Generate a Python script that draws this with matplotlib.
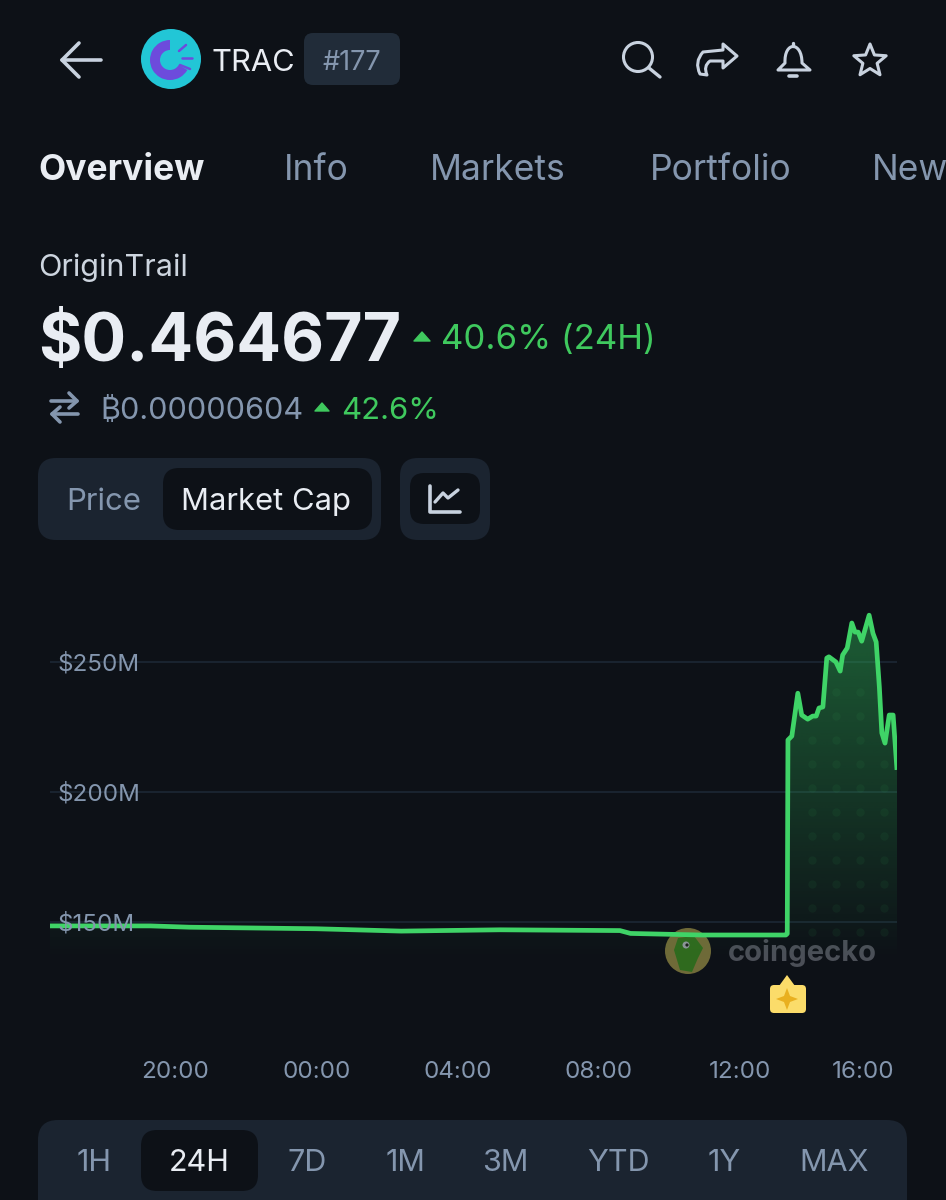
import numpy as np
import matplotlib
matplotlib.use("Agg")
import matplotlib.pyplot as plt
from matplotlib.patches import FancyBboxPatch, Circle, Wedge, Polygon, PathPatch
from matplotlib.path import Path
from matplotlib.transforms import ScaledTranslation

plt.rcParams['font.family'] = ['Inter', 'DejaVu Sans']

# hours on a running clock, 24 = 00:00 of the second day
hours = [16.45, 19.3, 20.4, 24.0, 26.4, 29.2, 32.6, 32.9, 34.9, 37.3, 37.34, 37.36, 37.47, 37.64, 37.75,
         37.92, 38.06, 38.16, 38.24, 38.35, 38.46, 38.52, 38.72, 38.84, 38.91, 39.04, 39.17, 39.26,
         39.35, 39.45, 39.66, 39.77, 39.86, 39.95, 40.02, 40.11, 40.23, 40.34, 40.45]
market_cap = [148.5, 148.5, 148.0, 147.4, 146.5, 147.0, 146.7, 145.6, 145.0, 145.0, 145.5, 220.0, 221.5, 238.0, 229.6,
              228.0, 229.2, 229.2, 232.3, 232.7, 251.5, 252.0, 250.0, 246.5, 252.7, 255.4, 265.0, 261.5,
              261.5, 258.0, 268.0, 261.0, 257.7, 240.4, 222.7, 218.8, 229.6, 229.6, 208.5]

y_ticks = [150, 200, 250]
y_tick_labels = ['$150M', '$200M', '$250M']
x_ticks = [20, 24, 28, 32, 36, 40]
x_tick_labels = ['20:00', '00:00', '04:00', '08:00', '12:00', '16:00']

tabs = ['Overview', 'Info', 'Markets', 'Portfolio', 'News']
tab_x = [38, 284, 430, 650, 872]
ranges = ['1H', '24H', '7D', '1M', '3M', 'YTD', '1Y', 'MAX']
range_x = [94, 199, 307, 405, 505, 618, 724, 834]

BG = '#0d1117'
PANEL = '#1b2430'
GREEN = '#3fd467'
TEXT_GREEN = '#3fc95e'
MUTED = '#8496ae'
WHITE = '#e9edf3'
ICON = '#c8d2df'

W, H = 946, 1200
fig = plt.figure(figsize=(W / 100, H / 100), dpi=100, facecolor=BG)

ui = fig.add_axes([0, 0, 1, 1], zorder=1)
ui.set_xlim(0, W)
ui.set_ylim(H, 0)
ui.axis('off')


def box(x0, y0, x1, y1, r, color):
    ui.add_patch(FancyBboxPatch((x0, y0), x1 - x0, y1 - y0, boxstyle=f"round,pad=0,rounding_size={r}",
                                fc=color, ec='none'))


def stroke(pts, color=ICON, lw=2.2):
    xs, ys = zip(*pts)
    ui.plot(xs, ys, color=color, lw=lw, solid_capstyle='round', solid_joinstyle='round')


def label(x, y, s, size, color, weight='normal', ha='left'):
    return ui.text(x, y, s, fontsize=size, color=color, fontweight=weight, ha=ha, va='center_baseline')


# header
stroke([(62, 60), (101, 60)], lw=2.6)
stroke([(79, 43), (62, 60), (79, 77)], lw=2.6)
ui.add_patch(Circle((171, 59), 30, fc='#22c6d6', ec='none'))
ui.add_patch(Wedge((170, 60), 20, 30, 270, width=10, fc='#6d4bdc', ec='none'))
for p in [[(179, 51), (186, 45)], [(182, 58), (192, 58)], [(180, 65), (190, 69)]]:
    stroke(p, color='#6d4bdc', lw=1.8)
label(211, 60, 'TRAC', 22.2, WHITE)
box(304, 33, 400, 85, 9, '#212c39')
label(352, 60, '#177', 19.5, MUTED, ha='center')

# top right icons
ui.add_patch(Circle((638, 57), 14.5, fc='none', ec=ICON, lw=2.2))
stroke([(649, 68), (660, 77)], lw=2.4)
share = Path([(723, 44), (737, 56), (723, 68), (723, 61), (710, 61), (703, 66), (707, 75), (700, 74), (694, 62), (703, 52),
              (723, 50), (723, 44)],
             [Path.MOVETO, Path.LINETO, Path.LINETO, Path.LINETO, Path.LINETO, Path.CURVE3, Path.CURVE3, Path.LINETO,
              Path.CURVE3, Path.CURVE3, Path.LINETO, Path.CLOSEPOLY])
ui.add_patch(PathPatch(share, fc='none', ec=ICON, lw=2.2, joinstyle='round'))
bell = Path([(778, 70), (785, 63), (784, 41), (802, 41), (802, 63), (810, 70), (778, 70)],
            [Path.MOVETO, Path.LINETO, Path.CURVE4, Path.CURVE4, Path.CURVE4, Path.LINETO, Path.CLOSEPOLY])
ui.add_patch(PathPatch(bell, fc='none', ec=ICON, lw=2.2, joinstyle='round'))
stroke([(793, 43), (793, 46)], lw=2.4)
stroke([(789, 76), (797, 76)], lw=2.6)
ang = np.deg2rad(np.arange(-90, 360 - 90, 36))
rad = np.where(np.arange(10) % 2 == 0, 17, 7.5)
ui.add_patch(Polygon(np.c_[870 + rad * np.cos(ang), 61 + rad * np.sin(ang)], fc='none', ec=ICON, lw=2.2,
                     joinstyle='round'))

# tabs
for i, (name, x) in enumerate(zip(tabs, tab_x)):
    label(x, 167, name, 25.5, WHITE if i == 0 else MUTED, weight='bold' if i == 0 else 'normal')

# price block
label(38, 265, 'OriginTrail', 22, '#cdd5df')
label(38, 337, '$0.464677', 47.8, WHITE, weight='bold')
ui.add_patch(Polygon([(414, 341), (430, 341), (422, 332)], fc=TEXT_GREEN, ec=TEXT_GREEN, lw=1, joinstyle='round'))
label(441, 337, '40.6% (24H)', 25, TEXT_GREEN)
stroke([(51, 401), (77, 401)], color=MUTED, lw=2.6)
stroke([(69, 393), (77, 401), (69, 408)], color=MUTED, lw=2.6)
stroke([(78, 414), (52, 414)], color=MUTED, lw=2.6)
stroke([(60, 407), (52, 414), (60, 422)], color=MUTED, lw=2.6)
label(100, 408, '₿0.00000604', 22, MUTED)
ui.add_patch(Polygon([(315, 411), (329, 411), (322, 403)], fc=TEXT_GREEN, ec=TEXT_GREEN, lw=1, joinstyle='round'))
label(341, 408, '42.6%', 22.4, TEXT_GREEN)

# price / market cap switch
box(38, 458, 381, 540, 18, PANEL)
box(163, 468, 372, 530, 16, BG)
label(66, 499, 'Price', 22.4, MUTED)
label(181, 499, 'Market Cap', 22.3, WHITE)
box(400, 458, 490, 540, 18, PANEL)
box(410, 473, 480, 524, 14, BG)
stroke([(430, 486), (430, 512), (460, 512)], lw=2.6)
stroke([(435, 502), (443, 493), (448, 498), (458, 490)], lw=2.4)

# coingecko watermark sits under the line
ui.add_patch(Circle((688, 951), 23, fc='#6f6a38', ec='none'))
ui.add_patch(Polygon([(678, 938), (694, 936), (703, 948), (698, 958), (692, 972), (680, 970), (674, 950)],
                     fc='#2f6a1e', ec='none'))
ui.add_patch(Circle((686, 945), 3.5, fc='#8c9498', ec='none'))
ui.add_patch(Circle((687, 945), 1.6, fc='#1b1f1c', ec='none'))
label(728, 950, 'coingecko', 21, '#4b4f57', weight='bold')

# event marker
box(770, 985, 806, 1013, 4, '#fbdc6a')
ui.add_patch(Polygon([(779, 986), (787, 975), (795, 986)], fc='#fbdc6a', ec='none'))
ui.add_patch(Polygon([(787, 988), (790, 996), (798, 999), (790, 1002), (787, 1010), (784, 1002), (776, 999), (784, 996)],
                     fc='#e9b020', ec='none'))

# range bar
box(38, 1120, 907, 1240, 20, PANEL)
box(141, 1130, 258, 1191, 16, BG)
for name, x in zip(ranges, range_x):
    label(x, 1160, name, 22, WHITE if name == '24H' else MUTED, ha='center')

# chart, y scale is 130 px per $50M and x scale 35.25 px per hour
top_px, bottom_px = 600, 1050
ax = fig.add_axes([50 / W, 1 - bottom_px / H, (897 - 50) / W, (bottom_px - top_px) / H], zorder=2)
ax.patch.set_alpha(0)
for s in ax.spines.values():
    s.set_visible(False)

xlim = (hours[0], hours[-1])
ylim = (250 - (bottom_px - 662) / 2.6, 250 + (662 - top_px) / 2.6)

# tick labels go over the line here, so the grid is drawn by hand underneath
ax.set_axisbelow(False)
for v in y_ticks:
    ax.axhline(v, color='#1c2735', lw=1.2, zorder=0.5)
ax.set_yticks(y_ticks, y_tick_labels)
ax.set_xticks(x_ticks, x_tick_labels)
ax.tick_params(axis='both', length=0, labelcolor=MUTED, labelsize=17.4)
ax.tick_params(axis='y', pad=-5.4)
ax.tick_params(axis='x', pad=8)
for t in ax.get_yticklabels():
    t.set_ha('left')
# last label is pushed left so it stays inside the chart
last = ax.get_xticklabels()[-1]
last.set_transform(last.get_transform() + ScaledTranslation(-18 / 100, 0, fig.dpi_scale_trans))

floor = 135
area = ax.fill_between(hours, market_cap, floor, color='none', lw=0)
clip = area.get_paths()[0]
grad = np.zeros((256, 2, 4))
grad[..., :3] = matplotlib.colors.to_rgb('#2fb558')
grad[..., 3] = np.linspace(0.47, 0, 256)[:, None]
im = ax.imshow(grad, extent=[xlim[0], xlim[1], floor, 268], origin='upper', aspect='auto', zorder=1)
im.set_clip_path(clip, area.get_transform())

# background dot pattern only shows inside the fill
dx, dy = np.meshgrid(np.arange(38.05, 40.5, 0.68), np.arange(238.5, 140, -9.23))
dots = ax.scatter(dx.ravel(), dy.ravel(), s=36, color='#3fd467', alpha=0.06, lw=0, zorder=1.5)
dots.set_clip_path(clip, area.get_transform())

ax.plot(hours, market_cap, color=GREEN, lw=3.4, solid_joinstyle='round', solid_capstyle='butt', zorder=2)
ax.set_xlim(*xlim)
ax.set_ylim(*ylim)

fig.savefig('out.png', dpi=100, facecolor=BG)
